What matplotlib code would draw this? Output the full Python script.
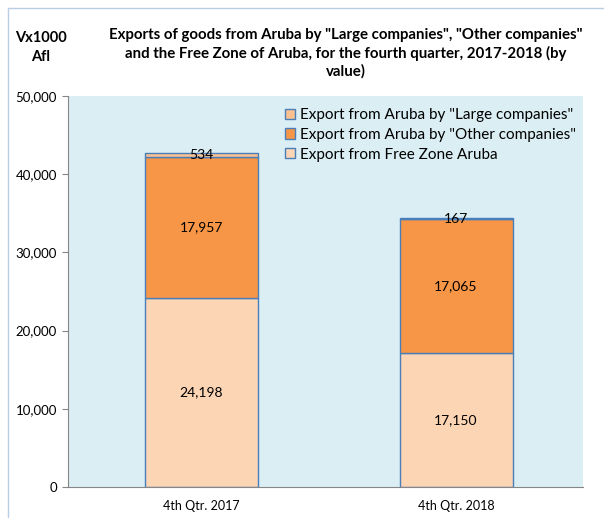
import numpy as np
import matplotlib.pyplot as plt
from matplotlib.lines import Line2D
from matplotlib.ticker import FuncFormatter, MultipleLocator

plt.rcParams['font.family'] = ['Lato', 'DejaVu Sans']

categories = ['4th Qtr. 2017', '4th Qtr. 2018']
free_zone = [24198, 17150]
other_comp = [17957, 17065]
large_comp = [534, 167]

series_names = ['Export from Free Zone Aruba',
                'Export from Aruba by "Other companies"',
                'Export from Aruba by "Large companies"']
series_colors = ['#FCD5B5', '#F79646', '#FAC090']
edge_col = '#4A7EBB'

fig = plt.figure(figsize=(6.04, 5.18), dpi=100)
ax = fig.add_axes([68 / 604, 31 / 518, 515 / 604, 391 / 518])
ax.set_facecolor('#DAEEF3')

x = np.arange(len(categories))
bw = 0.443
bottom = np.zeros(len(categories))
handles = []
for vals, name, col in zip([free_zone, other_comp, large_comp], series_names, series_colors):
    b = ax.bar(x, vals, bw, bottom=bottom, color=col, edgecolor=edge_col, linewidth=1.0, label=name)
    handles.append(b)
    for xi, v, b0 in zip(x, vals, bottom):
        ax.text(xi, b0 + v / 2, f'{v:,}', ha='center', va='center', fontsize=10, color='black')
    bottom = bottom + np.array(vals)

ax.set_xlim(-0.522, 1.498)
ax.set_ylim(0, 50000)
ax.yaxis.set_major_locator(MultipleLocator(10000))
ax.yaxis.set_major_formatter(FuncFormatter(lambda v, p: f'{int(v):,}'))
ax.set_xticks(x)
ax.set_xticklabels(categories, fontsize=9)
ax.tick_params(axis='y', labelsize=9.5, length=4, color='#868686', direction='out', pad=4)
ax.tick_params(axis='x', length=0, pad=9)
for s in ['top', 'right']:
    ax.spines[s].set_visible(False)
ax.spines['left'].set_color('#868686')
ax.spines['bottom'].set_color('#868686')

leg = ax.legend(handles[::-1], series_names[::-1], loc='upper left',
                bbox_to_anchor=(0.41, 0.985), frameon=False, fontsize=11,
                handlelength=0.65, handleheight=0.65, handletextpad=0.3,
                labelspacing=0.38, borderaxespad=0)

fig.text(0.573, 0.946, 'Exports of goods from Aruba by "Large companies", "Other companies"\n'
         'and the Free Zone of Aruba, for the fourth quarter, 2017-2018 (by\nvalue)',
         ha='center', va='top', fontsize=10.8, fontweight='bold', linespacing=1.3)
fig.text(0.068, 0.94, 'Vx1000\nAfl', ha='center', va='top', fontsize=10.5,
         fontweight='bold', linespacing=1.45)

# outer frame lines (chart border)
fig.add_artist(Line2D([8 / 604, 8 / 604], [0, 1 - 8 / 518], transform=fig.transFigure,
                      color='#B9CDE5', linewidth=1))
fig.add_artist(Line2D([8 / 604, 1], [1 - 8 / 518, 1 - 8 / 518], transform=fig.transFigure,
                      color='#B9CDE5', linewidth=1))

fig.savefig('out.png', dpi=100)
